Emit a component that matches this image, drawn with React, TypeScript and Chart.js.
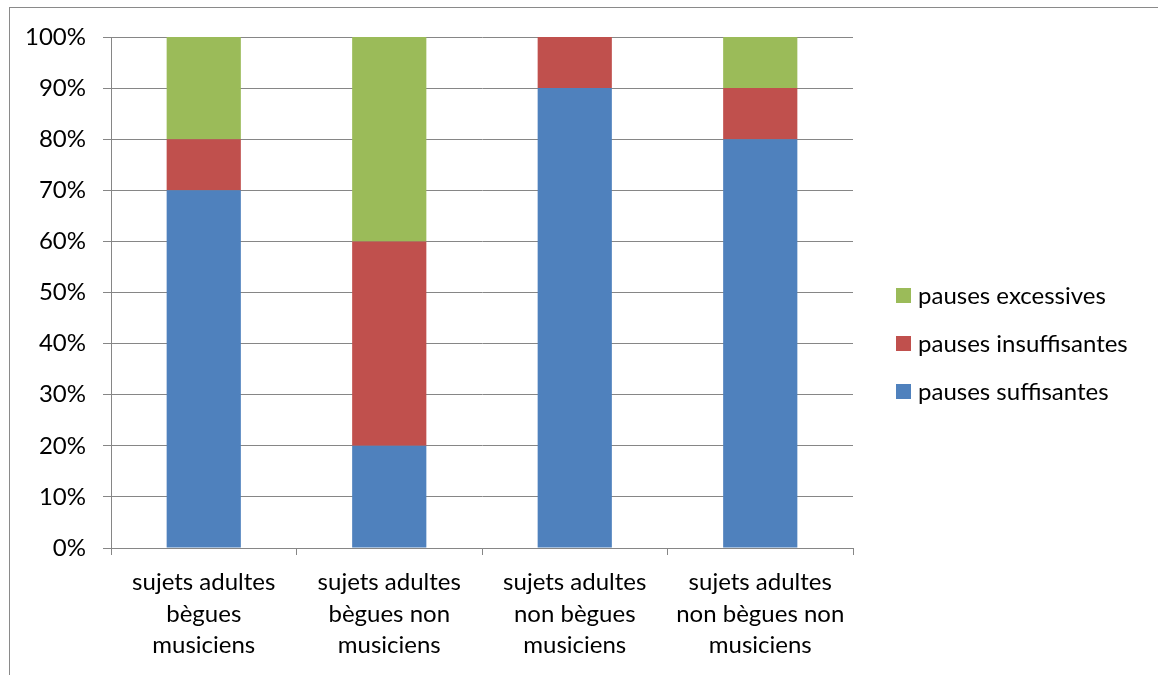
import React, { useEffect, useRef } from "react";
import { Chart, registerables } from "chart.js";

Chart.register(...registerables);

const categories: string[][] = [
  ["sujets adultes", "bègues", "musiciens"],
  ["sujets adultes", "bègues non", "musiciens"],
  ["sujets adultes", "non bègues", "musiciens"],
  ["sujets adultes", "non bègues non", "musiciens"],
];
const suffisantes = [70, 20, 90, 80];
const insuffisantes = [10, 40, 10, 10];
const excessives = [20, 40, 0, 10];
const seriesNames = ["pauses suffisantes", "pauses insuffisantes", "pauses excessives"];
const seriesColors = ["#4F81BD", "#C0504D", "#9BBB59"];

const FONT = "Lato, 'Open Sans', sans-serif";
const FSIZE = 24;
const GRID = "#868686";

const framePlugin = {
  id: "frame",
  beforeDraw(chart: any) {
    const ctx = chart.ctx;
    ctx.save();
    ctx.fillStyle = "#ffffff";
    ctx.fillRect(0, 0, chart.width, chart.height);
    ctx.strokeStyle = "#8a8a8a";
    ctx.lineWidth = 1;
    ctx.strokeRect(9.5, 7.5, chart.width + 20, chart.height + 20);
    ctx.restore();
  },
};

const legendPlugin = {
  id: "customLegend",
  afterDraw(chart: any) {
    const ctx = chart.ctx;
    const ds = chart.data.datasets.slice().reverse();
    ctx.save();
    ctx.font = `${FSIZE}px ${FONT}`;
    ctx.textBaseline = "middle";
    ctx.textAlign = "left";
    ds.forEach((d: any, i: number) => {
      const cy = 295.5 + i * 48;
      ctx.fillStyle = d.backgroundColor;
      ctx.fillRect(896, cy - 7.5, 15, 15);
      ctx.fillStyle = "#000000";
      ctx.fillText(d.label, 918, cy + 1);
    });
    ctx.restore();
  },
};

export default function App() {
  const ref = useRef<HTMLCanvasElement | null>(null);
  useEffect(() => {
    if (!ref.current) return;
    const values = [suffisantes, insuffisantes, excessives];
    const chart = new Chart(ref.current, {
      type: "bar",
      data: {
        labels: categories,
        datasets: values.map((v, i) => ({
          label: seriesNames[i],
          data: v,
          backgroundColor: seriesColors[i],
          borderWidth: 0,
          barPercentage: 0.4,
          categoryPercentage: 1,
        })),
      },
      options: {
        responsive: false,
        animation: false,
        devicePixelRatio: 1,
        layout: { padding: { left: 0, top: 37, right: 305, bottom: 0 } },
        plugins: { legend: { display: false }, tooltip: { enabled: false } },
        scales: {
          x: {
            stacked: true,
            afterFit: (s: any) => { s.height = 127; },
            grid: { drawOnChartArea: false, drawTicks: true, tickLength: 7, color: GRID, offset: true },
            border: { color: GRID },
            ticks: { color: "#000", font: { family: FONT, size: FSIZE, lineHeight: "31.5px" as any }, padding: 12, maxRotation: 0, autoSkip: false },
          },
          y: {
            stacked: true,
            min: 0,
            max: 100,
            afterFit: (s: any) => { s.width = 111; },
            grid: { color: GRID, tickLength: 8 },
            border: { color: GRID },
            ticks: {
              stepSize: 10,
              color: "#000",
              padding: 17,
              font: { family: FONT, size: FSIZE },
              callback: (v: any) => `${v}%`,
            },
          },
        },
      },
      plugins: [framePlugin, legendPlugin],
    });
    return () => chart.destroy();
  }, []);
  return (
    <div style={{ position: "absolute", left: 0, top: 0, width: 1158, height: 675 }}>
      <canvas ref={ref} width={1158} height={675} style={{ width: 1158, height: 675, display: "block" }} />
    </div>
  );
}
